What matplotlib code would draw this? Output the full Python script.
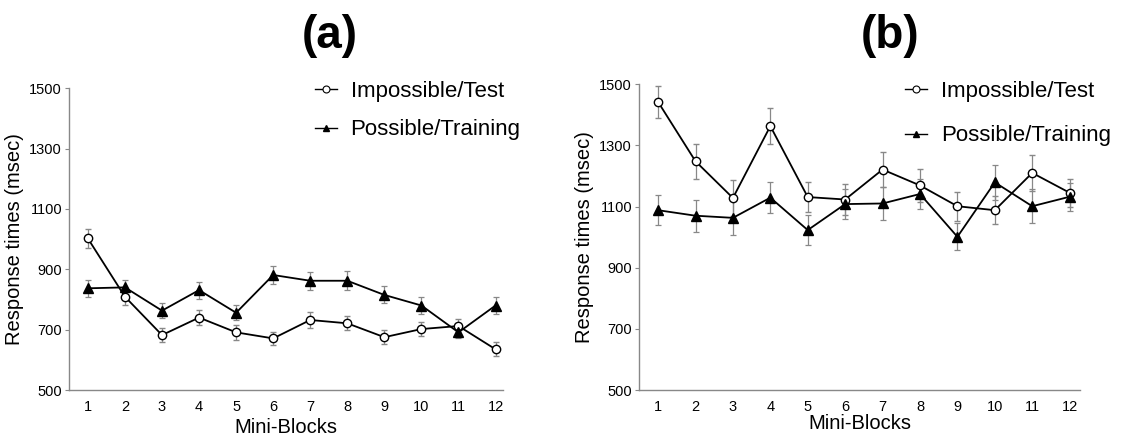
import matplotlib
matplotlib.use("Agg")
import matplotlib.pyplot as plt
from matplotlib.lines import Line2D

plt.rcParams['font.family'] = ['Liberation Sans', 'DejaVu Sans']

blocks = list(range(1, 13))

# panel (a)
a_test = [1002, 809, 682, 740, 691, 671, 732, 721, 675, 702, 712, 635]
a_test_err = [30, 28, 22, 25, 24, 22, 25, 23, 24, 24, 22, 23]
a_train = [837, 840, 763, 831, 756, 881, 862, 862, 815, 780, 691, 780]
a_train_err = [28, 25, 25, 28, 25, 30, 30, 32, 28, 28, 20, 28]

# panel (b)
b_test = [1442, 1248, 1128, 1363, 1131, 1123, 1221, 1169, 1101, 1088, 1210, 1145]
b_test_err = [51, 58, 58, 58, 49, 52, 58, 53, 47, 46, 58, 45]
b_train = [1088, 1070, 1063, 1129, 1023, 1108, 1110, 1141, 1001, 1179, 1101, 1132]
b_train_err = [49, 53, 57, 50, 49, 48, 54, 49, 44, 57, 55, 45]

yticks = [500, 700, 900, 1100, 1300, 1500]
labels = ['Impossible/Test', 'Possible/Training']

fig = plt.figure(figsize=(11.33, 4.4), dpi=100)
ax_a = fig.add_axes([0.0609, 0.1136, 0.383, 0.686])
ax_b = fig.add_axes([0.564, 0.1136, 0.389, 0.695])


def draw(ax, test, test_err, train, train_err, xlim, xlabelpad, leg_xy, spacing):
    ax.errorbar(blocks, test, yerr=test_err, color='black', lw=1.3,
                marker='o', ms=6, mfc='white', mec='black', mew=1.0,
                ecolor='#888888', elinewidth=0.9, capsize=2.2, capthick=0.9,
                zorder=3)
    ax.errorbar(blocks, train, yerr=train_err, color='black', lw=1.3,
                marker='^', ms=6.5, mfc='black', mec='black',
                ecolor='#888888', elinewidth=0.9, capsize=2.2, capthick=0.9,
                zorder=3)
    ax.set_ylim(500, 1500)
    ax.set_xlim(*xlim)
    ax.set_yticks(yticks)
    ax.set_xticks(blocks)
    for s in ['top', 'right']:
        ax.spines[s].set_visible(False)
    for s in ['left', 'bottom']:
        ax.spines[s].set_color('#888888')
        ax.spines[s].set_linewidth(1.0)
    ax.tick_params(axis='y', length=3, color='#888888', labelsize=10.5, pad=2)
    ax.tick_params(axis='x', length=0, labelsize=10.5, pad=7)
    ax.set_ylabel('Response times (msec)', fontsize=14.5, labelpad=4)
    ax.set_xlabel('Mini-Blocks', fontsize=14.5, labelpad=xlabelpad)
    handles = [
        Line2D([], [], color='black', lw=1.0, marker='o', ms=5,
               mfc='white', mec='black', mew=0.8),
        Line2D([], [], color='black', lw=1.0, marker='^', ms=5,
               mfc='black', mec='black'),
    ]
    ax.legend(handles, labels, loc='upper left', bbox_to_anchor=leg_xy,
              bbox_transform=fig.transFigure, frameon=False, fontsize=16,
              handlelength=1.0, handletextpad=0.6, labelspacing=spacing,
              borderpad=0, borderaxespad=0)


draw(ax_a, a_test, a_test_err, a_train, a_train_err, (0.49, 12.2), 3,
     (0.278, 0.816), 0.78)
draw(ax_b, b_test, b_test_err, b_train, b_train_err, (0.49, 12.27), 0,
     (0.799, 0.816), 1.05)

fig.text(330 / 1133, 1 - 36 / 440, '(a)', fontsize=33, fontweight='bold',
         ha='center', va='center')
fig.text(890 / 1133, 1 - 36 / 440, '(b)', fontsize=33, fontweight='bold',
         ha='center', va='center')

fig.savefig('out.png', dpi=100)
